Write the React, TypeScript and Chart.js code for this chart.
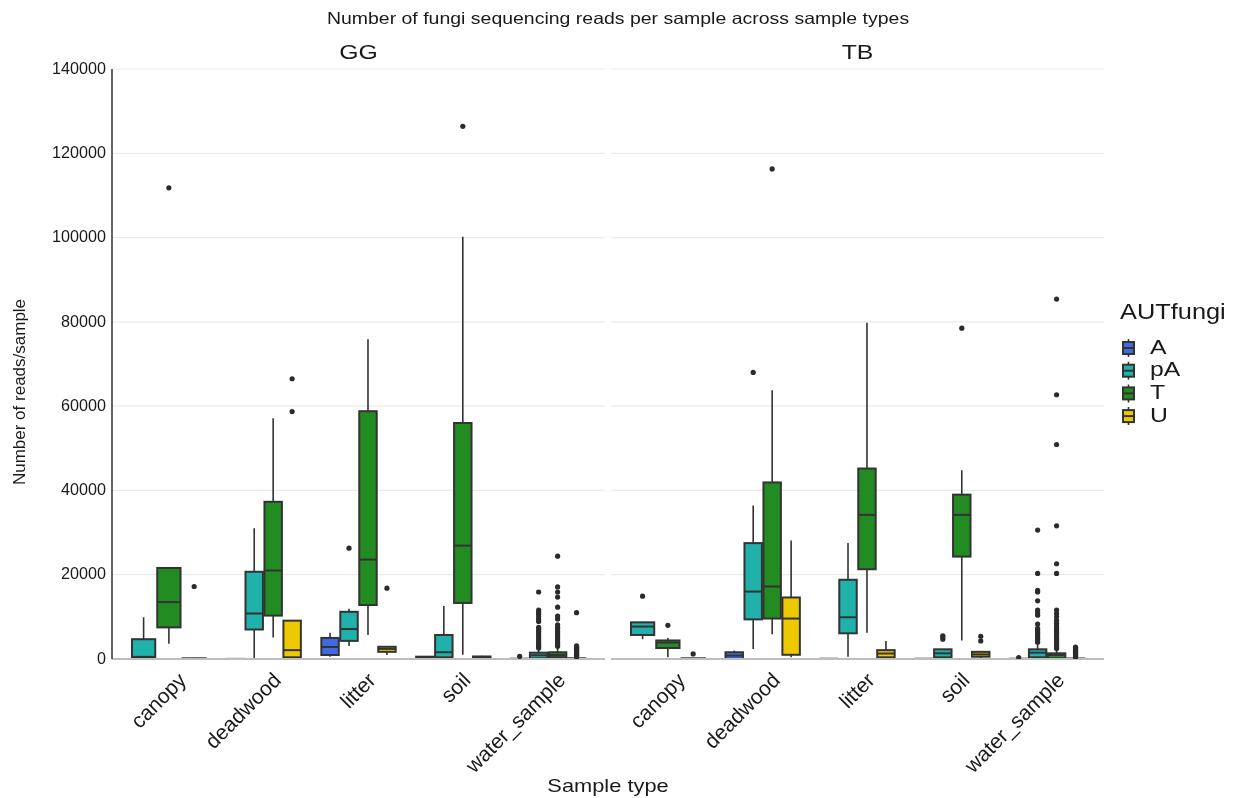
import React, { useEffect, useRef } from 'react';
import { Chart, registerables } from 'chart.js';

Chart.register(...registerables);

// ---------------- data ----------------
const facets = ['GG', 'TB'];
const categories = ['canopy', 'deadwood', 'litter', 'soil', 'water_sample'];
const groups = ['A', 'pA', 'T', 'U'];
const groupColors = ['#4169E1', '#20B2AA', '#228B22', '#EEC900'];
const yTickValues = [0, 20000, 40000, 60000, 80000, 100000, 120000, 140000];

// per category: [lower whisker, Q1, median, Q3, upper whisker] (null = no samples)
const GG_A = [null, [0, 0, 0, 30, 80], [550, 950, 2850, 5000, 6200], [0, 100, 300, 550, 700], [0, 0, 20, 60, 120]];
const GG_pA = [[0, 300, 500, 4700, 9900], [0, 7000, 10800, 20700, 31000], [3100, 4300, 7100, 11200, 11900], [0, 400, 1600, 5700, 12600], [0, 170, 880, 1500, 2300]];
const GG_T = [[3600, 7500, 13500, 21600, 21600], [5100, 10300, 21000, 37300, 57100], [5700, 12800, 23600, 58800, 75900], [1000, 13300, 26900, 56000, 100200], [0, 400, 950, 1600, 2600]];
const GG_U = [[0, 0, 50, 150, 300], [0, 400, 2100, 9100, 9100], [950, 1700, 2400, 2900, 2900], [0, 100, 300, 600, 800], [0, 0, 50, 150, 350]];

const TB_A = [null, [0, 50, 800, 1600, 2000], [0, 0, 20, 50, 100], [0, 0, 20, 50, 100], [0, 0, 20, 50, 150]];
const TB_pA = [[4700, 5700, 7700, 8700, 8700], [2400, 9400, 16000, 27500, 36400], [550, 6100, 9900, 18800, 27500], [0, 400, 1350, 2300, 2300], [0, 400, 1500, 2300, 3500]];
const TB_T = [[400, 2600, 3900, 4400, 5000], [5900, 9600, 17200, 41900, 63800], [6200, 21300, 34200, 45200, 79800], [4400, 24300, 34200, 39000, 44800], [0, 170, 950, 1350, 2000]];
const TB_U = [[0, 0, 50, 150, 250], [400, 1000, 9600, 14600, 28100], [0, 400, 1300, 2100, 4300], [0, 550, 1100, 1700, 1700], [0, 0, 30, 100, 250]];

// outliers per category
const GG_A_out = [[], [], [], [], [600]];
const GG_pA_out = [[], [], [26300], [], [2600, 3000, 3500, 4000, 4500, 5000, 5500, 6000, 6500, 7000, 7500, 8900, 9400, 10000, 10600, 11100, 11600, 15900]];
const GG_T_out = [[111800], [], [], [126400], [3000, 3500, 4000, 4500, 5000, 5500, 6000, 6500, 7100, 7500, 8100, 9500, 10200, 12300, 14700, 15900, 17100, 24400]];
const GG_U_out = [[17200], [58700, 66500], [16800], [], [500, 700, 900, 1100, 1300, 1500, 1700, 1900, 2100, 2300, 2500, 2700, 2900, 3100, 11000]];

const TB_A_out = [[], [], [], [], [350]];
const TB_pA_out = [[14900], [68000], [], [4700, 5200, 5500], [4000, 4500, 4900, 5300, 5800, 6300, 6800, 7300, 8300, 10400, 11000, 11600, 13800, 15900, 16300, 20300, 30600]];
const TB_T_out = [[8000], [116300], [], [78500], [2500, 2900, 3300, 3700, 4100, 4500, 4900, 5300, 5800, 6300, 6800, 7300, 7900, 8500, 9200, 10000, 10800, 11600, 20300, 22600, 31600, 50900, 62700, 85400]];
const TB_U_out = [[1200], [], [], [4300, 5400], [400, 600, 800, 1000, 1200, 1400, 1600, 1800, 2000, 2200, 2400, 2600, 2800]];

const chartTitle = 'Number of fungi sequencing reads per sample across sample types';
const xTitle = 'Sample type';
const yTitle = 'Number of reads/sample';
const legendTitle = 'AUTfungi';

// ---------------- layout helpers ----------------
const stats = [[GG_A, GG_pA, GG_T, GG_U], [TB_A, TB_pA, TB_T, TB_U]];
const outs = [[GG_A_out, GG_pA_out, GG_T_out, GG_U_out], [TB_A_out, TB_pA_out, TB_T_out, TB_U_out]];

const EXP = 0.6;
const GAP = 0.063;
const PANEL_SHIFT = categories.length - 1 + 2 * EXP + GAP; // 5.263
const X_MIN = 1 - EXP;
const X_MAX = PANEL_SHIFT + categories.length + EXP;
const panelRanges = [[X_MIN, categories.length + EXP], [PANEL_SHIFT + 1 - EXP, X_MAX]];
const DODGE = 0.8;

const SX = 1.18;
const FONT = '"Liberation Sans", Arial, Helvetica, sans-serif';
const TEXT = '#1a1a1a';

function boxesFor(f: number, c: number) {
  const present = groups.map((_, g) => g).filter((g) => stats[f][g][c] !== null);
  const n = present.length;
  const pitch = DODGE / n;
  const center = c + 1 + (f === 1 ? PANEL_SHIFT : 0);
  return present.map((g, i) => ({ g, x: center + (i - (n - 1) / 2) * pitch, w: pitch * 0.92 }));
}

function text(ctx: CanvasRenderingContext2D, s: string, x: number, y: number, size: number,
  align: CanvasTextAlign = 'center', baseline: CanvasTextBaseline = 'middle', rot = 0, sx = SX) {
  ctx.save();
  ctx.translate(x, y);
  ctx.scale(sx, 1);
  ctx.rotate(rot);
  ctx.font = `${size}px ${FONT}`;
  ctx.fillStyle = TEXT;
  ctx.textAlign = align;
  ctx.textBaseline = baseline;
  ctx.fillText(s, 0, 0);
  ctx.restore();
}

function drawBox(ctx: CanvasRenderingContext2D, cx: number, half: number, py: number[], color: string) {
  const [lo, q1, md, q3, hi] = py;
  ctx.strokeStyle = '#333333';
  ctx.lineWidth = 1.6;
  ctx.beginPath();
  ctx.moveTo(cx, q3); ctx.lineTo(cx, hi);
  ctx.moveTo(cx, q1); ctx.lineTo(cx, lo);
  ctx.stroke();
  ctx.fillStyle = color;
  ctx.fillRect(cx - half, q3, 2 * half, q1 - q3);
  ctx.lineWidth = 2;
  ctx.strokeRect(cx - half, q3, 2 * half, q1 - q3);
  ctx.lineWidth = 2;
  ctx.beginPath();
  ctx.moveTo(cx - half, md); ctx.lineTo(cx + half, md);
  ctx.stroke();
}

const facetPlugin = {
  id: 'facetBoxplots',
  beforeDatasetsDraw(chart: any) {
    const { ctx, scales: { x, y }, chartArea } = chart;
    ctx.save();
    ctx.strokeStyle = '#EBEBEB';
    ctx.lineWidth = 1.2;
    panelRanges.forEach(([a, b]) => {
      const l = x.getPixelForValue(a), r = x.getPixelForValue(b);
      y.ticks.forEach((t: any) => {
        const py = y.getPixelForValue(t.value);
        ctx.beginPath(); ctx.moveTo(l, py); ctx.lineTo(r, py); ctx.stroke();
      });
    });
    facets.forEach((_, f) => {
      categories.forEach((_, c) => {
        boxesFor(f, c).forEach(({ g, x: bx, w }) => {
          const s = stats[f][g][c] as number[];
          const cx = x.getPixelForValue(bx);
          const half = (x.getPixelForValue(bx + w / 2) - x.getPixelForValue(bx - w / 2)) / 2;
          drawBox(ctx, cx, half, s.map((v) => y.getPixelForValue(v)), groupColors[g]);
        });
      });
    });
    ctx.strokeStyle = '#BDBDBD';
    ctx.lineWidth = 2;
    panelRanges.forEach(([a, b]) => {
      const l = x.getPixelForValue(a), r = x.getPixelForValue(b);
      ctx.beginPath(); ctx.moveTo(l, chartArea.bottom); ctx.lineTo(r, chartArea.bottom); ctx.stroke();
    });
    ctx.strokeStyle = '#111111';
    ctx.lineWidth = 1.3;
    ctx.beginPath(); ctx.moveTo(chartArea.left, chartArea.top); ctx.lineTo(chartArea.left, chartArea.bottom); ctx.stroke();
    ctx.restore();
  },
  afterDraw(chart: any) {
    const { ctx, scales: { x, y }, chartArea } = chart;
    text(ctx, chartTitle, 618, 19, 16.5);
    facets.forEach((name, f) => {
      const [a, b] = panelRanges[f];
      text(ctx, name, (x.getPixelForValue(a) + x.getPixelForValue(b)) / 2, 53, 21);
    });
    y.ticks.forEach((t: any) => {
      text(ctx, String(t.value), chartArea.left - 6, y.getPixelForValue(t.value), 17, 'right', 'middle', 0, 0.95);
    });
    text(ctx, yTitle, 20, 392, 17, 'center', 'middle', -Math.PI / 2, 1);
    facets.forEach((_, f) => {
      categories.forEach((cat, c) => {
        const px = x.getPixelForValue(c + 1 + (f === 1 ? PANEL_SHIFT : 0));
        text(ctx, cat, px + 7, chartArea.bottom + 11, 21, 'right', 'top', -Math.PI / 4, 1);
      });
    });
    text(ctx, xTitle, (chartArea.left + chartArea.right) / 2, 787, 18.5);
    text(ctx, legendTitle, 1120, 313, 21.5, 'left');
    groups.forEach((g, i) => {
      const cy = 348 + i * 22.7;
      const cx = 1128.5;
      drawBox(ctx, cx, 5.5, [cy + 9, cy + 6, cy, cy - 6, cy - 9], groupColors[i]);
      text(ctx, g, 1150, cy, 21, 'left');
    });
  },
};

const outlierDatasets = facets.flatMap((fname, f) =>
  groups.map((gname, g) => ({
    label: `${fname} ${gname} outliers`,
    data: categories.flatMap((_, c) => {
      const b = boxesFor(f, c).find((bb) => bb.g === g);
      if (!b) return [];
      return outs[f][g][c].map((v) => ({ x: b.x, y: v }));
    }),
    pointRadius: 2.6,
    pointBackgroundColor: '#2b2b2b',
    pointBorderWidth: 0,
    showLine: false,
  }))
);

export default function App() {
  const ref = useRef<HTMLCanvasElement>(null);
  useEffect(() => {
    const chart = new Chart(ref.current as HTMLCanvasElement, {
      type: 'scatter',
      data: { datasets: outlierDatasets as any },
      options: {
        animation: false,
        responsive: false,
        devicePixelRatio: 1,
        events: [],
        layout: { padding: { top: 69, right: 131, left: 0, bottom: 0 } },
        plugins: { legend: { display: false }, tooltip: { enabled: false }, title: { display: false } },
        scales: {
          x: {
            type: 'linear', min: X_MIN, max: X_MAX,
            grid: { display: false }, border: { display: false },
            ticks: { display: false },
            afterFit: (s: any) => { s.height = 139; },
          },
          y: {
            type: 'linear', min: 0, max: 140000,
            grid: { display: false }, border: { display: false },
            ticks: { display: false, stepSize: 20000 },
            afterBuildTicks: (s: any) => { s.ticks = yTickValues.map((v) => ({ value: v })); },
            afterFit: (s: any) => { s.width = 112; },
          },
        },
      },
      plugins: [facetPlugin],
    });
    return () => chart.destroy();
  }, []);
  return (
    <div style={{ position: 'fixed', left: 0, top: 0, width: 1235, height: 798, background: '#ffffff' }}>
      <canvas ref={ref} width={1235} height={798} style={{ width: 1235, height: 798, display: 'block' }} />
    </div>
  );
}
